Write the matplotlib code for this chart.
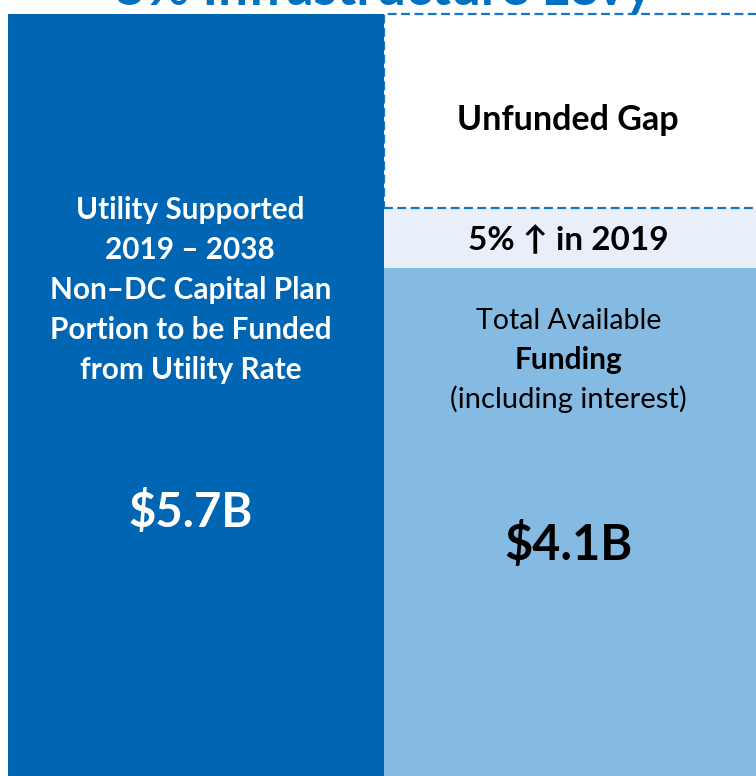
import matplotlib
matplotlib.use('Agg')
import matplotlib.pyplot as plt

# values in $B
total_plan = 5.7        # utility supported capital plan
available = 4.1         # total available funding
rate_increase = 0.38    # 5% increase in 2019 band
unfunded_gap = total_plan - available - rate_increase

left_label = "Utility Supported\n2019 \u2013 2038\nNon\u2013DC Capital Plan\nPortion to be Funded\nfrom Utility Rate"
plt.rcParams['font.family'] = ['Lato', 'DejaVu Sans']

dark = '#0065B2'
light = '#85BAE3'
band = '#E9EFF9'
dash = '#1A75C4'

fig = plt.figure(figsize=(7.56, 7.76), dpi=100)
ax = fig.add_axes([0, 0, 1, 1])

# bars (bottom is cut off by the frame, like the slide)
ax.bar(1, available, width=1, align='edge', color=light)
ax.bar(1, rate_increase, bottom=available, width=1, align='edge', color=band)
ax.bar(1, unfunded_gap, bottom=available + rate_increase, width=1, align='edge',
       color='white', edgecolor=dash, linestyle=(0, (4, 2)), linewidth=1.6)
ax.bar(0, total_plan, width=1, align='edge', color=dark, zorder=3)

ax.set_xlim(-8 / 376, 748 / 376)
ax.set_ylim(0.9, total_plan + 14 / 158.75)
ax.axis('off')

def fy(px):
    # pixel row from the top -> axes fraction
    return 1 - px / 776

tr = ax.get_xaxis_transform()
ax.text(0.485, fy(290), left_label, transform=tr, ha='center', va='center',
        color='white', fontsize=21.4, fontweight='bold', linespacing=1.52, zorder=4)
ax.text(0.485, fy(512), f"${total_plan}B", transform=tr, ha='center', va='center',
        color='white', fontsize=34, fontweight='bold', zorder=4)

ax.text(1.49, fy(120), "Unfunded Gap", transform=tr, ha='center', va='center',
        color='black', fontsize=24.5, fontweight='bold')
ax.text(1.49, fy(240), "5% \u2191 in 2019", transform=tr, ha='center', va='center',
        color='black', fontsize=24, fontweight='bold')
ax.text(1.49, fy(321), "Total Available", transform=tr, ha='center', va='center',
        color='black', fontsize=20.5)
ax.text(1.49, fy(360), "Funding", transform=tr, ha='center', va='center',
        color='black', fontsize=21.5, fontweight='bold')
ax.text(1.49, fy(399), "(including interest)", transform=tr, ha='center', va='center',
        color='black', fontsize=21)
ax.text(1.49, fy(545), f"${available}B", transform=tr, ha='center', va='center',
        color='black', fontsize=35, fontweight='bold')

# slide title, mostly outside the crop
fig.text(0.508, fy(5), "5% Infrastructure Levy", ha='center', va='baseline',
         color='#0070C0', fontsize=38, fontweight='bold')

fig.savefig('out.png', dpi=100)
